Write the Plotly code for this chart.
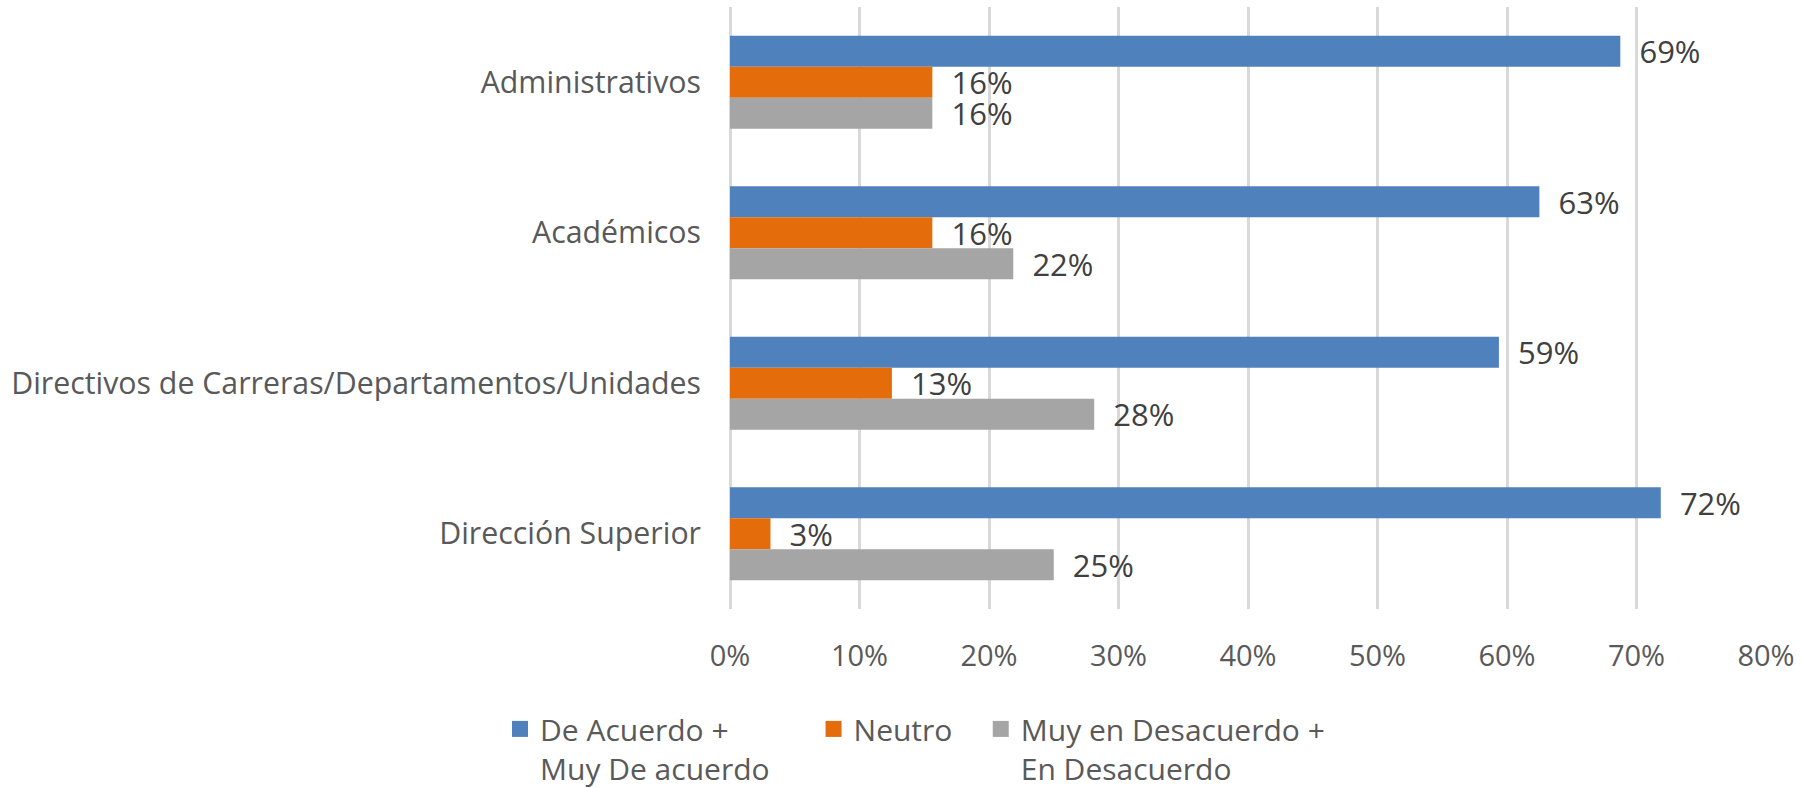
import plotly.graph_objects as go

categories = [
    "Administrativos",
    "Académicos",
    "Directivos de Carreras/Departamentos/Unidades",
    "Dirección Superior",
]
series_names = [
    "De Acuerdo +<br>Muy De acuerdo",
    "Neutro",
    "Muy en Desacuerdo +<br>En Desacuerdo",
]
de_acuerdo = [0.6875, 0.625, 0.59375, 0.71875]
neutro = [0.15625, 0.15625, 0.125, 0.03125]
desacuerdo = [0.15625, 0.21875, 0.28125, 0.25]
x_ticks = [0, 0.1, 0.2, 0.3, 0.4, 0.5, 0.6, 0.7, 0.8]

colors = ["#4f81bd", "#e46c0a", "#a5a5a5"]
FONT = "Open Sans"
NB = "\u00a0"
# trailing spacing after legend texts, to mimic the reference's item gaps
legend_pad = [NB * 5, NB * 3, ""]

fig = go.Figure()
for name, vals, col in zip(series_names, [de_acuerdo, neutro, desacuerdo], colors):
    fig.add_trace(go.Bar(
        y=categories, x=vals, name=name, orientation="h",
        marker=dict(color=col, line=dict(width=0)),
        texttemplate=NB * 2 + "%{x:.0%}",
        textposition="outside", constraintext="none", cliponaxis=False,
        textfont=dict(family=FONT, size=31, color="#404040"),
        hoverinfo="skip", showlegend=False,
    ))

# legend entries (square swatches)
for name, col, pad in zip(series_names, colors, legend_pad):
    lines = name.split("<br>")
    label = "<br>".join(l + pad for l in lines)
    fig.add_trace(go.Scatter(
        x=[None], y=[None], mode="markers", name=label,
        marker=dict(symbol="square", size=16, color=col),
        showlegend=True, hoverinfo="skip",
    ))

fig.update_layout(
    width=1802, height=788,
    barmode="group", bargap=0.382, bargroupgap=0,
    plot_bgcolor="white", paper_bgcolor="white",
    margin=dict(l=730, r=36, t=7, b=179, pad=0, autoexpand=False),
    font=dict(family=FONT, size=29, color="#595959"),
    xaxis=dict(
        range=[0, 0.8], tickvals=x_ticks, tickformat=".0%",
        showgrid=True, gridcolor="#d9d9d9", gridwidth=2.5,
        zeroline=True, zerolinecolor="#d9d9d9", zerolinewidth=2.5,
        showline=False, ticks="", ticklabelstandoff=27,
        tickfont=dict(family=FONT, size=29, color="#595959"),
    ),
    yaxis=dict(
        autorange="reversed", showgrid=False, zeroline=False, showline=False,
        ticks="", ticklabelstandoff=28,
        tickfont=dict(family=FONT, size=30.3, color="#595959"),
    ),
    legend=dict(
        orientation="h", x=-0.222, xanchor="left", y=-0.156, yanchor="top",
        font=dict(family=FONT, size=30, color="#595959"),
        traceorder="normal", itemclick=False, valign="top",
    ),
    showlegend=True,
)

fig.write_html("out.html", config={"displayModeBar": False},
               post_script="document.body.style.margin='0';")
